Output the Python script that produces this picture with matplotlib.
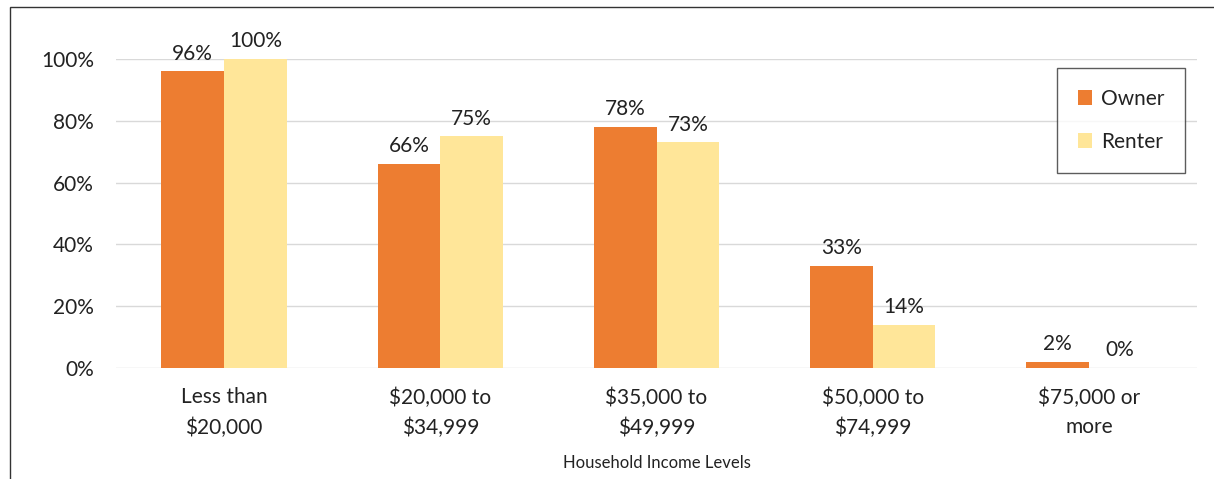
import numpy as np
import matplotlib.pyplot as plt
from matplotlib.patches import Rectangle

categories = ["Less than\n$20,000", "$20,000 to\n$34,999", "$35,000 to\n$49,999",
              "$50,000 to\n$74,999", "$75,000 or\nmore"]
owner = [96, 66, 78, 33, 2]
renter = [100, 75, 73, 14, 0]

plt.rcParams['font.family'] = ['Lato', 'DejaVu Sans']

fig = plt.figure(figsize=(12.14, 4.79), dpi=100)
ax = fig.add_axes([116 / 1214, 1 - 368 / 479, (1197 - 116) / 1214, (368 - 59) / 479])

x = np.arange(len(categories))
w = 0.29
b1 = ax.bar(x - w / 2, owner, w, color="#ed7d31", label="Owner", zorder=3)
b2 = ax.bar(x + w / 2, renter, w, color="#ffe699", label="Renter", zorder=3)

for bars, vals in ((b1, owner), (b2, renter)):
    for r, v in zip(bars, vals):
        ax.text(r.get_x() + r.get_width() / 2, v + 2.5, f"{v}%", ha="center", va="bottom",
                fontsize=15, color="#222222", clip_on=False)

ax.set_xlim(-0.5, 4.5)
ax.set_ylim(0, 100)
ax.set_yticks(range(0, 101, 20))
ax.set_yticklabels([f"{t}%" for t in range(0, 101, 20)], fontsize=15, color="#222222")
ax.set_xticks(x)
ax.set_xticklabels(categories, fontsize=15, linespacing=1.6, color="#222222")
ax.tick_params(length=0)
ax.tick_params(axis="y", pad=16)
ax.tick_params(axis="x", pad=14)
ax.grid(axis="y", color="#d9d9d9", linewidth=1, zorder=0)
for s in ax.spines.values():
    s.set_visible(False)
fig.text((116 + 1197) / 2 / 1214, 1 - 463 / 479, "Household Income Levels", fontsize=12,
         ha="center", va="center", color="#222222")

leg = ax.legend(loc="upper right", bbox_to_anchor=(1069 / 1081, 300 / 309), fontsize=15,
                frameon=True, fancybox=False, edgecolor="#333333", handlelength=0.7,
                handleheight=0.7, labelspacing=1.1, borderpad=1.0, handletextpad=0.4,
                borderaxespad=0)
leg.get_frame().set_linewidth(1)
leg._legend_box.align = "left"
leg._legend_box.sep = 0
for t in leg.get_texts():
    t.set_color("#222222")

fig.patches.append(Rectangle((10 / 1214, -0.1), 1.5, 1 - 7 / 479 + 0.1, transform=fig.transFigure,
                             fill=False, edgecolor="#333333", linewidth=1))

fig.savefig("out.png")
